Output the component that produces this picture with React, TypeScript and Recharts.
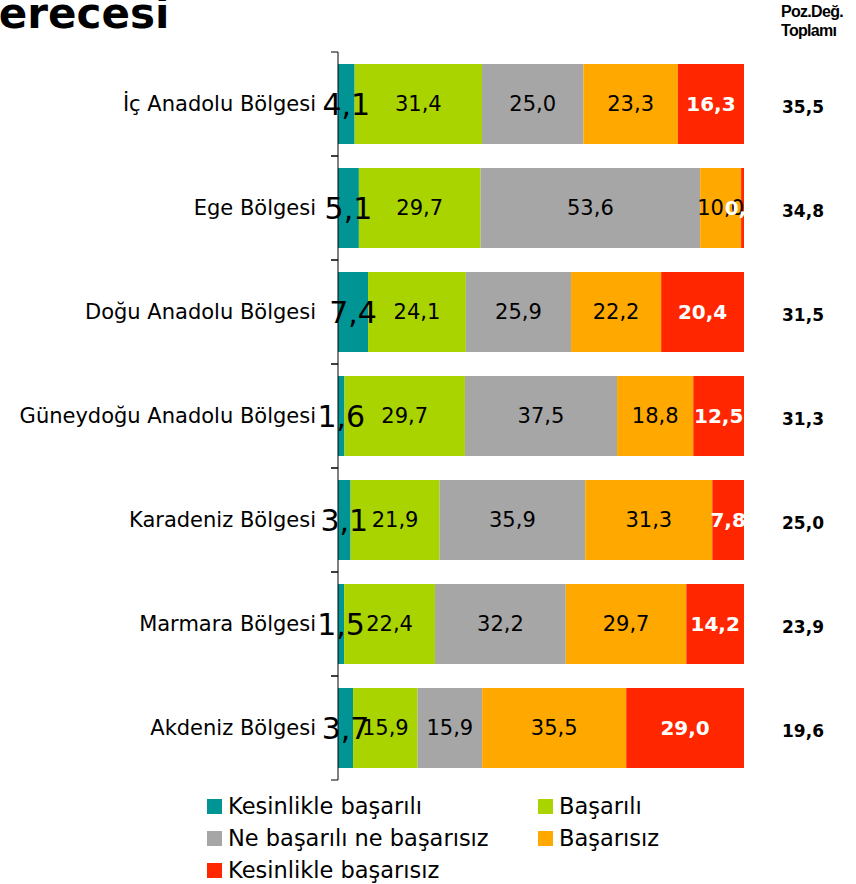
import React from 'react';
import { BarChart, Bar, XAxis, YAxis, Legend, LabelList } from 'recharts';

const REGIONS = [
  'İç Anadolu Bölgesi',
  'Ege Bölgesi',
  'Doğu Anadolu Bölgesi',
  'Güneydoğu Anadolu Bölgesi',
  'Karadeniz Bölgesi',
  'Marmara Bölgesi',
  'Akdeniz Bölgesi',
];
const KESINLIKLE_BASARILI = [4.1, 5.1, 7.4, 1.6, 3.1, 1.5, 3.7];
const BASARILI = [31.4, 29.7, 24.1, 29.7, 21.9, 22.4, 15.9];
const NE_BASARILI_NE_BASARISIZ = [25.0, 53.6, 25.9, 37.5, 35.9, 32.2, 15.9];
const BASARISIZ = [23.3, 10.0, 22.2, 18.8, 31.3, 29.7, 35.5];
const KESINLIKLE_BASARISIZ = [16.3, 0.7, 20.4, 12.5, 7.8, 14.2, 29.0];
const POZ_DEG_TOPLAMI = [35.5, 34.8, 31.5, 31.3, 25.0, 23.9, 19.6];

const FONT = '"DejaVu Sans", Verdana, sans-serif';
const BAND = 104; // kategori yüksekliği (px)

const SERIES = [
  { key: 'kb', name: 'Kesinlikle başarılı', color: '#009494', values: KESINLIKLE_BASARILI, size: 30, bold: false, fill: '#000' },
  { key: 'b', name: 'Başarılı', color: '#aad400', values: BASARILI, size: 21, bold: false, fill: '#000' },
  { key: 'nn', name: 'Ne başarılı ne başarısız', color: '#a6a6a6', values: NE_BASARILI_NE_BASARISIZ, size: 21, bold: false, fill: '#000' },
  { key: 'bs', name: 'Başarısız', color: '#ffa800', values: BASARISIZ, size: 21, bold: false, fill: '#000' },
  { key: 'kbs', name: 'Kesinlikle başarısız', color: '#ff2600', values: KESINLIKLE_BASARISIZ, size: 20, bold: true, fill: '#fff' },
];

const data = REGIONS.map((region, i) => {
  const row: Record<string, string | number> = { region };
  SERIES.forEach((s) => {
    row[s.key] = s.values[i];
  });
  return row;
});

const fmt = (v: number) => v.toFixed(1).replace('.', ',');

const RegionTick = (props: any) => {
  const { x, y, payload } = props;
  return (
    <g>
      <text x={x - 22} y={y} textAnchor="end" dominantBaseline="central" fontSize={21} fontFamily={FONT} fill="#000">
        {payload.value}
      </text>
      <line x1={x - 7} x2={x} y1={y - BAND / 2} y2={y - BAND / 2} stroke="#000" />
      <line x1={x - 7} x2={x} y1={y + BAND / 2} y2={y + BAND / 2} stroke="#000" />
    </g>
  );
};

const TotalTick = (props: any) => {
  const { x, y, index } = props;
  return (
    <text x={x + 59} y={y + 3} textAnchor="middle" dominantBaseline="central" fontSize={17} fontWeight="bold" fontFamily={FONT} fill="#000">
      {fmt(POZ_DEG_TOPLAMI[index])}
    </text>
  );
};

const makeLabel = (s: (typeof SERIES)[number], clip: boolean) => (props: any) => {
  const vb = props.viewBox ?? props;
  const x = Number(vb.x ?? props.x);
  const y = Number(vb.y ?? props.y);
  const w = Number(vb.width ?? props.width);
  const h = Number(vb.height ?? props.height);
  const v = s.values[props.index];
  const id = `clip-${s.key}-${props.index}`;
  return (
    <g>
      {clip && (
        <defs>
          <clipPath id={id}>
            <rect x={0} y={y} width={x + w} height={h} />
          </clipPath>
        </defs>
      )}
      <text
        x={x + w / 2}
        y={y + h / 2}
        textAnchor="middle"
        dominantBaseline="central"
        fontSize={s.size}
        fontWeight={s.bold ? 'bold' : 'normal'}
        fontFamily={FONT}
        fill={s.fill}
        clipPath={clip ? `url(#${id})` : undefined}
      >
        {fmt(v)}
      </text>
    </g>
  );
};

const LegendContent = () => (
  <div style={{ display: 'grid', gridTemplateColumns: '331px auto', rowGap: 4, fontFamily: FONT, fontSize: 22.5 }}>
    {SERIES.map((s) => (
      <div key={s.key} style={{ display: 'flex', alignItems: 'center', height: 28, whiteSpace: 'nowrap' }}>
        <span style={{ width: 15, height: 15, background: s.color, marginRight: 6, display: 'inline-block' }} />
        <span>{s.name}</span>
      </div>
    ))}
  </div>
);

export default function App() {
  return (
    <div style={{ position: 'absolute', left: 0, top: 0, width: 856, height: 884, background: '#fff', overflow: 'hidden' }}>
      <div style={{ position: 'absolute', left: -36, top: -7, fontFamily: FONT, fontWeight: 'bold', fontSize: 42, lineHeight: '42px', whiteSpace: 'nowrap' }}>
        Derecesi
      </div>
      <div
        style={{
          position: 'absolute',
          left: 781,
          top: 2,
          fontFamily: '"Liberation Sans", Arial, sans-serif',
          fontWeight: 'bold',
          fontSize: 16,
          lineHeight: '19px',
          letterSpacing: -0.7,
          whiteSpace: 'nowrap',
        }}
      >
        Poz.Değ.
        <br />
        Toplamı
      </div>
      <BarChart
        width={856}
        height={884}
        layout="vertical"
        data={data}
        stackOffset="expand"
        barCategoryGap={12}
        margin={{ top: 52, right: 0, bottom: 104, left: 0 }}
      >
        <XAxis type="number" hide domain={[0, 1]} />
        <YAxis
          type="category"
          dataKey="region"
          width={338}
          interval={0}
          tickLine={false}
          tickSize={0}
          tickMargin={0}
          axisLine={{ stroke: '#000' }}
          tick={<RegionTick />}
        />
        <YAxis
          yAxisId="total"
          orientation="right"
          type="category"
          dataKey="region"
          width={112}
          interval={0}
          tickLine={false}
          tickSize={0}
          tickMargin={0}
          axisLine={false}
          tick={<TotalTick />}
        />
        <Legend
          layout="vertical"
          align="center"
          verticalAlign="middle"
          wrapperStyle={{ left: 207, top: 792, width: 480, height: 92 }}
          content={<LegendContent />}
        />
        {SERIES.map((s) => (
          <Bar key={s.key} dataKey={s.key} name={s.name} stackId="a" fill={s.color} isAnimationActive={false}>
            <LabelList dataKey={s.key} content={makeLabel(s, s.key === 'kbs')} />
          </Bar>
        ))}
      </BarChart>
    </div>
  );
}
